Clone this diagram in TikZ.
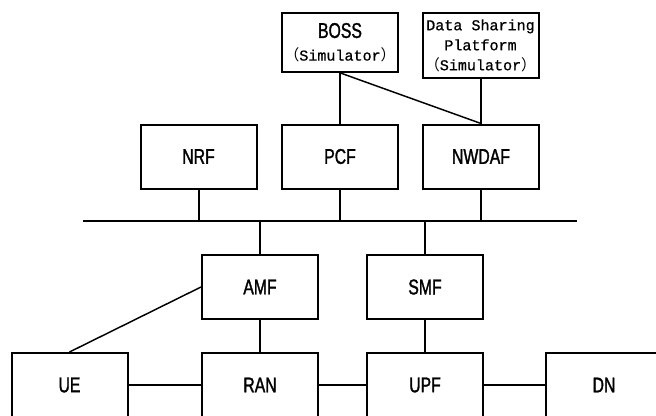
\documentclass[tikz,border=0pt]{standalone}
\usepackage{fontspec}
\setmainfont{Liberation Sans}[FakeStretch=0.74, FakeBold=1.4]
\newfontfamily\monofont{Liberation Mono}[FakeBold=0.8]
\newfontfamily\cjk{Noto Sans CJK SC}
\usetikzlibrary{positioning, calc}
\newcommand{\simtag}{{\cjk （}Simulator{\cjk ）}}
\tikzset{
  every picture/.style={line width=1.5pt},
  nf/.style={draw, line width=1.5pt, minimum width=87pt, minimum height=48pt, inner sep=0pt, align=center, font=\fontsize{16}{18}\selectfont},
  simbox/.style={nf, font=\fontsize{11.3}{15}\selectfont\monofont},
  link/.style={draw, line width=1.5pt},
  slant/.style={draw, line width=1.1pt},
}
\begin{document}
\begin{tikzpicture}[x=0.75pt, y=-0.75pt]
  \useasboundingbox (0,0) rectangle (656,415);
  % outside systems (simulated)
  \node[nf, minimum height=44pt] (boss) at (340,42.5) {BOSS\\[-1pt]{\fontsize{11.3}{13}\selectfont\monofont\simtag}};
  \node[simbox, minimum height=49pt] (dsp) at (480.5,45.5) {Data Sharing\\Platform\\\simtag};
  % control plane functions above the bus
  \node[nf] (nrf) at (198.5,156.5) {NRF};
  \node[nf] (pcf) at (340,156.5) {PCF};
  \node[nf] (nwdaf) at (481,156.5) {NWDAF};
  % service bus
  \coordinate (busL) at (83,221);
  \coordinate (busR) at (577,221);
  \draw[link] (busL) -- (busR);
  % below the bus
  \node[nf] (amf) at (260,287) {AMF};
  \node[nf] (smf) at (425,287) {SMF};
  % user plane row
  \node[nf] (ue) at (69.5,385) {UE};
  \node[nf] (ran) at (260,385) {RAN};
  \node[nf] (upf) at (425,385) {UPF};
  \node[nf] (dn) at (604,385) {DN};

  \draw[link] (boss.south) -- (pcf.north);
  \draw[slant] (boss.south) -- (nwdaf.north);
  \draw[link] (dsp.south) -- (dsp.south |- nwdaf.north);
  \foreach \f in {nrf,pcf,nwdaf} \draw[link] (\f.south) -- (\f.south |- busL);
  \foreach \f in {amf,smf} \draw[link] (\f.north) -- (\f.north |- busL);
  \draw[link] (amf) -- (ran);
  \draw[link] (smf) -- (upf);
  \draw[slant] (ue.north) -- (amf.west);
  \draw[link] (ue) -- (ran);
  \draw[link] (ran) -- (upf);
  \draw[link] (upf) -- (dn);
\end{tikzpicture}
\end{document}
